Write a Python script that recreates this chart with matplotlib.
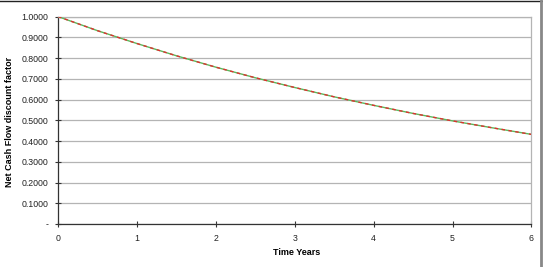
import matplotlib
matplotlib.use("Agg")
import matplotlib.pyplot as plt
from matplotlib.lines import Line2D
from matplotlib.ticker import FuncFormatter

plt.rcParams['font.family'] = ['Liberation Sans', 'DejaVu Sans']

# discount factor
years = [0, 0.5, 1, 1.5, 2, 2.5, 3, 3.5, 4, 4.5, 5, 5.5, 6]
factor = [1.0, 0.932, 0.870, 0.811, 0.756, 0.705, 0.658, 0.613, 0.572, 0.533, 0.497, 0.464, 0.432]

fig = plt.figure(figsize=(5.43, 2.67), dpi=100)
ax = fig.add_axes([0.1068, 0.161, 0.872, 0.777])

ax.plot(years, factor, color='#5cb85c', lw=1.0, zorder=3)
ax.plot(years, factor, color='#e03030', lw=1.0, ls=(0, (2.5, 2.5)), zorder=4)

ax.set_xlim(0, 6)
ax.set_ylim(0, 1)
ax.set_yticks([i / 10 for i in range(11)])
ax.set_xticks(range(7))
ax.yaxis.set_major_formatter(FuncFormatter(lambda v, p: '-' if v == 0 else '%.4f' % v))

ax.grid(axis='y', color='#b4b4b4', lw=0.9)
ax.set_axisbelow(True)
for s in ['top', 'right']:
    ax.spines[s].set_color('#b4b4b4')
    ax.spines[s].set_linewidth(0.9)
for s in ['left', 'bottom']:
    ax.spines[s].set_color('#333333')
    ax.spines[s].set_linewidth(0.9)

ax.tick_params(direction='inout', length=4, width=0.8, color='#333333',
               labelsize=6.3, labelcolor='#222222', pad=5)

ax.set_xlabel('Time Years', fontsize=6.5, fontweight='bold')
ax.set_ylabel('Net Cash Flow discount factor', fontsize=6.5, fontweight='bold')
ax.xaxis.set_label_coords(0.505, -0.115)
ax.yaxis.set_label_coords(-0.092, 0.49)

# outer frame: top and right edges
fig.add_artist(Line2D([0, 1], [0.996, 0.996], color='#222222', lw=1.0, transform=fig.transFigure))
fig.add_artist(Line2D([0.9955, 0.9955], [0, 1], color='#888888', lw=2.0, transform=fig.transFigure))

fig.savefig('out.png', dpi=100)
